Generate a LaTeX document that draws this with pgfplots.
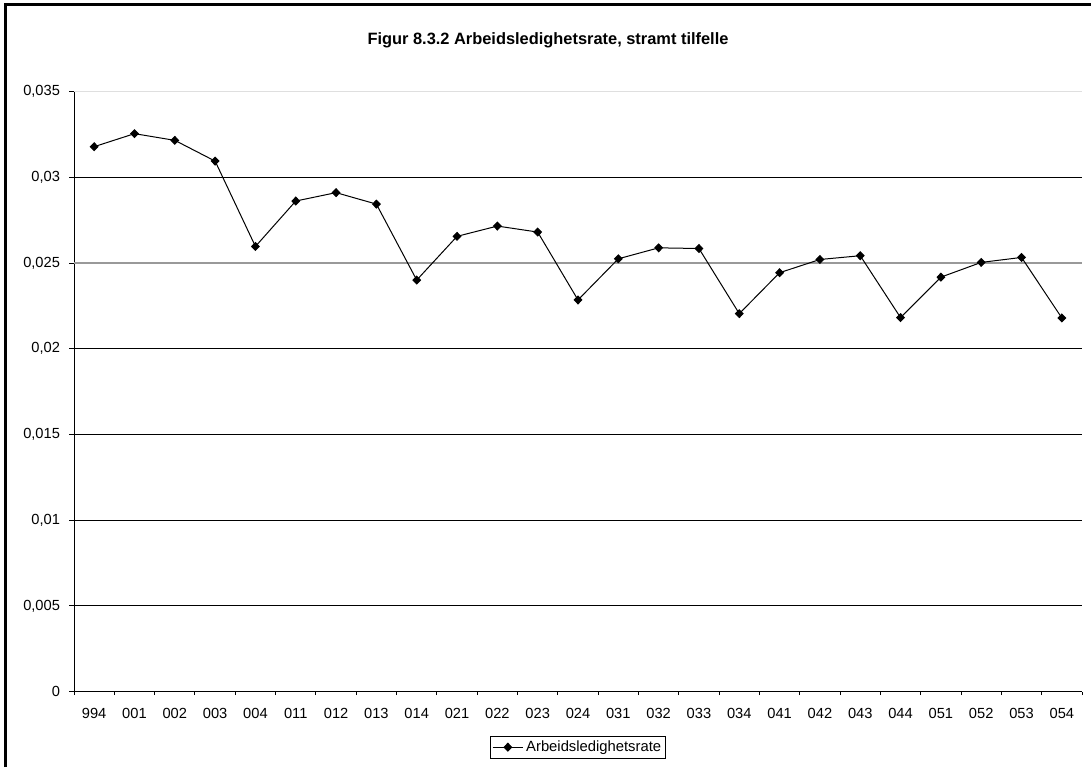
\documentclass[border=0pt]{standalone}
\usepackage{pgfplots}
\pgfplotsset{compat=1.18}
\usepackage{fontspec}
\setmainfont{Liberation Sans}
\pgfplotstableread{
x y
0 0.03179
1 0.03255
2 0.03216
3 0.03095
4 0.02597
5 0.02862
6 0.02911
7 0.02844
8 0.02401
9 0.02656
10 0.02716
11 0.02681
12 0.02285
13 0.02525
14 0.02589
15 0.02585
16 0.02205
17 0.02444
18 0.02521
19 0.02543
20 0.02182
21 0.02418
22 0.02504
23 0.02533
24 0.02180
}\datatable
\begin{document}
\begin{tikzpicture}
\path[use as bounding box] (0,0) rectangle (818.25pt,575.25pt);
\draw[line width=1.9pt] (4.3pt,0pt) -- (4.3pt,571.9pt) -- (818.25pt,571.9pt);
\node[font=\bfseries\fontsize{12.3}{14}\selectfont] at (411pt,545.25pt) {Figur 8.3.2 Arbeidsledighetsrate, stramt tilfelle};
\begin{axis}[
  at={(55.5pt,56.5pt)}, anchor=south west,
  width=756pt, height=450pt, scale only axis,
  xmin=-0.5, xmax=24.5, ymin=0, ymax=0.035,
  axis x line*=bottom, axis y line*=left,
  axis line style={black, line width=0.75pt},
  scaled y ticks=false,
  xtick={0,...,24},
  xticklabels={994,001,002,003,004,011,012,013,014,021,022,023,024,031,032,033,034,041,042,043,044,051,052,053,054},
  major x tick style={draw=none},
  minor xtick={-0.5,0.5,...,24.5},
  ytick={0,0.005,0.01,0.015,0.02,0.025,0.03,0.035},
  yticklabels={0,{0,005},{0,01},{0,015},{0,02},{0,025},{0,03},{0,035}},
  ymajorgrids,
  grid style={black, line width=0.75pt},
  tick align=outside,
  major tick length=3.5pt, minor tick length=2.5pt,
  tick style={black, line width=0.75pt},
  ticklabel style={font=\fontsize{11}{13}\selectfont},
  xticklabel style={yshift=-5.5pt},
  yticklabel style={xshift=-3.5pt},
  legend style={at={(0.5,-0.0925)}, anchor=center, draw=black, line width=0.6pt,
    font=\fontsize{11.1}{13}\selectfont, inner sep=1.5pt, row sep=0pt},
  legend image code/.code={\draw[mark repeat=2,mark phase=2,#1] plot coordinates {(0cm,0cm) (0.4cm,0cm) (0.8cm,0cm)};},
]
\draw[gray!25, line width=1pt] (axis cs:-0.5,0.035) -- (axis cs:24.5,0.035);
\draw[gray!80, line width=1pt] (axis cs:-0.5,0.025) -- (axis cs:24.5,0.025);
\addplot[black, line width=0.75pt, mark=diamond*, mark size=2.9pt, mark options={solid, fill=black, xscale=1.3}] table[x=x,y=y]{\datatable};
\addlegendentry{Arbeidsledighetsrate}
\end{axis}
\end{tikzpicture}
\end{document}
